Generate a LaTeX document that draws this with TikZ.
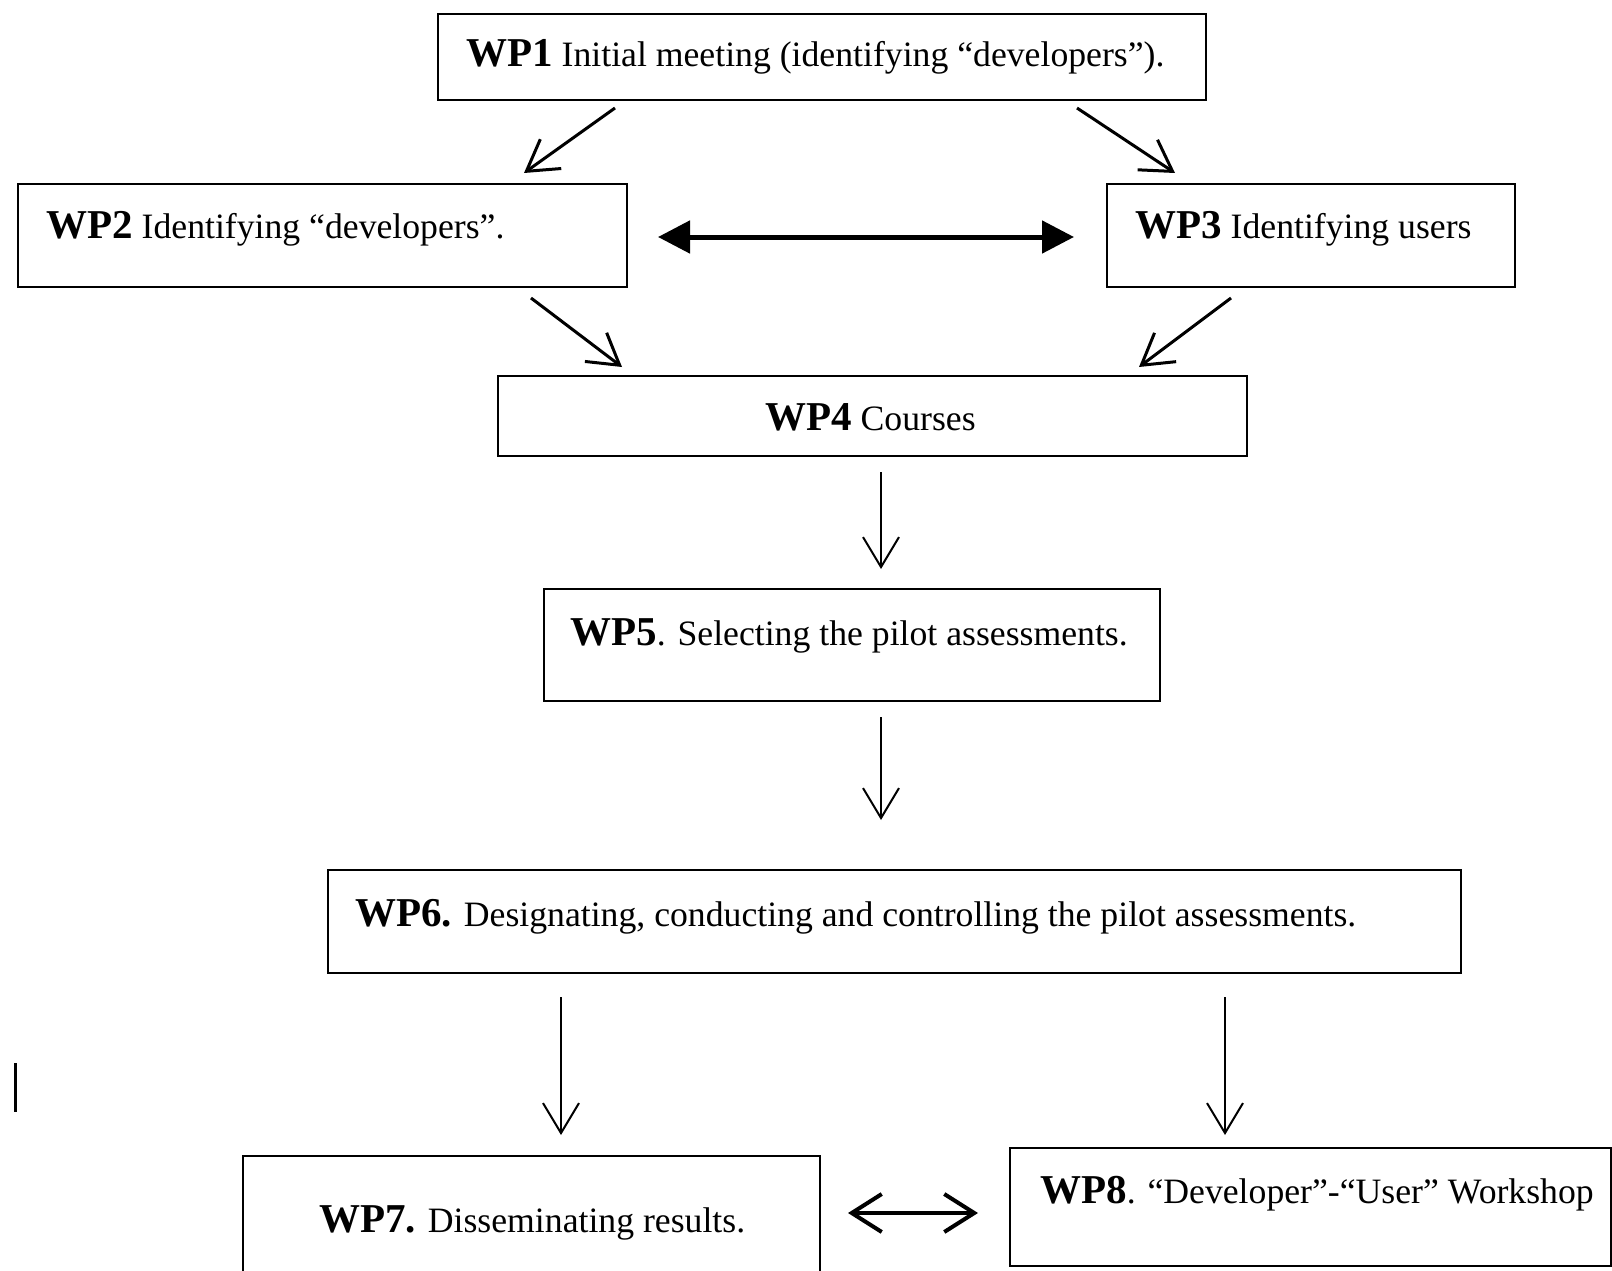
\documentclass[tikz,border=0pt]{standalone}
\usepackage{fontspec}
\setmainfont{Liberation Serif}
\usetikzlibrary{arrows.meta}
\newcommand\wpb[1]{{\fontsize{41}{46}\selectfont\bfseries #1}}
\tikzset{
  box/.style={draw, line width=2.4pt, rectangle, inner sep=0pt, anchor=north west},
  lbl/.style={anchor=base west, inner sep=0pt, font=\fontsize{35.7}{40}\selectfont},
  flow/.style={line width=2pt, -{Straight Barb[length=30pt,width=36pt,line width=2pt]}},
  diag/.style={line width=3pt, -{Straight Barb[length=30pt,width=36pt,line width=3pt]}},
  bothfill/.style={line width=5pt, {Triangle[length=32pt,width=32pt]}-{Triangle[length=32pt,width=32pt]}},
  bothopen/.style={line width=4pt, {Straight Barb[length=30pt,width=38pt,line width=4pt]}-{Straight Barb[length=30pt,width=38pt,line width=4pt]}}
}
\begin{document}
\begin{tikzpicture}[x=1pt,y=-1pt]
\fill[white] (0,0) rectangle (1612,1271);
\useasboundingbox (0,0) rectangle (1612,1271);

% boxes
\node[box, minimum width=768pt, minimum height=86pt]  (wp1) at (437,13) {};
\node[box, minimum width=609pt, minimum height=103pt] (wp2) at (17,183) {};
\node[box, minimum width=408pt, minimum height=103pt] (wp3) at (1106,183) {};
\node[box, minimum width=749pt, minimum height=80pt]  (wp4) at (497,375) {};
\node[box, minimum width=616pt, minimum height=112pt] (wp5) at (543,588) {};
\node[box, minimum width=1133pt, minimum height=103pt] (wp6) at (327,869) {};
\node[box, minimum width=577pt, minimum height=145pt] (wp7) at (242,1155) {};
\node[box, minimum width=601pt, minimum height=118pt] (wp8) at (1009,1147) {};

% texts
\node[lbl] (t1) at (466,67)   {\wpb{WP1} Initial meeting (identifying “developers”).};
\node[lbl] (t2) at (46,238)   {\wpb{WP2} Identifying “developers”.};
\node[lbl] (t3) at (1135,238) {\wpb{WP3} Identifying users};
\node[lbl] (t4) at (765,430)  {\wpb{WP4} Courses};
\node[lbl] (t5) at (570,645)  {\wpb{WP5}. Selecting the pilot assessments.};
\node[lbl] (t6) at (355,926)  {\wpb{WP6.} Designating, conducting and controlling the pilot assessments.};
\node[lbl] (t7) at (319,1232) {\wpb{WP7.} Disseminating results.};
\node[lbl] (t8) at (1040,1203){\wpb{WP8}. “Developer”-“User” Workshop};

% connector end points
\coordinate (a12s) at (615,108);  \coordinate (a12e) at (524,173);
\coordinate (a13s) at (1077,108); \coordinate (a13e) at (1175,173);
\coordinate (a23s) at (658,237);  \coordinate (a23e) at (1074,237);
\coordinate (a24s) at (531,298);  \coordinate (a24e) at (622,367);
\coordinate (a34s) at (1231,298); \coordinate (a34e) at (1139,367);
\coordinate (a45s) at (881,472);  \coordinate (a45e) at (881,569);
\coordinate (a56s) at (881,717);  \coordinate (a56e) at (881,820);
\coordinate (a67s) at (561,997);  \coordinate (a67e) at (561,1135);
\coordinate (a68s) at (1225,997); \coordinate (a68e) at (1225,1135);
\coordinate (a78s) at (848,1213); \coordinate (a78e) at (978,1213);

\draw[diag] (a12s) -- (a12e);
\draw[diag] (a13s) -- (a13e);
\draw[bothfill] (a23s) -- (a23e);
\draw[diag] (a24s) -- (a24e);
\draw[diag] (a34s) -- (a34e);
\draw[flow] (a45s) -- (a45e);
\draw[flow] (a56s) -- (a56e);
\draw[flow] (a67s) -- (a67e);
\draw[flow] (a68s) -- (a68e);
\draw[bothopen] (a78s) -- (a78e);

% stray cursor bar
\draw[line width=3pt] (15,1063) -- (15,1112);
\end{tikzpicture}
\end{document}
